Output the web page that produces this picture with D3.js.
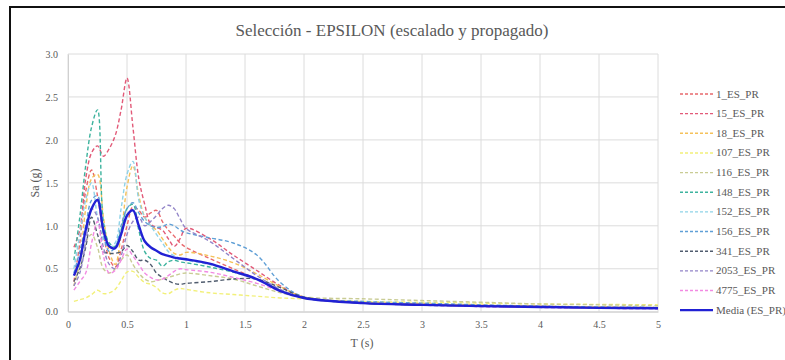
<!DOCTYPE html>
<html>
<head>
<meta charset="utf-8">
<script src="https://cdn.jsdelivr.net/npm/d3@7"></script>
<style>
  html, body { margin: 0; padding: 0; background: #fff; }
  svg { display: block; }
</style>
</head>
<body>
<svg id="chart" width="785" height="360"></svg>
<script>
// Periods (s)
const periods = [0.05,0.1,0.15,0.2,0.25,0.3,0.35,0.4,0.45,0.5,0.55,0.6,0.65,0.7,0.75,0.8,0.85,0.9,0.95,1.0,1.2,1.4,1.6,1.8,2.0,2.5,3.0,3.5,4.0,4.5,5.0];

// Spectral accelerations Sa (g) per record
const s1_ES_PR    = [0.35,0.80,1.40,1.65,1.35,0.90,0.62,0.52,0.72,1.00,1.22,1.18,1.10,1.15,1.18,1.05,0.95,0.88,0.80,0.75,0.62,0.50,0.38,0.25,0.16,0.10,0.08,0.065,0.055,0.045,0.04];
const s15_ES_PR   = [0.75,0.95,1.55,1.85,1.93,1.81,1.90,2.05,2.35,2.72,2.15,1.55,1.25,1.02,0.98,0.95,0.85,0.76,0.85,0.97,0.85,0.66,0.48,0.30,0.17,0.11,0.09,0.075,0.06,0.05,0.045];
const s18_ES_PR   = [0.30,0.60,1.20,1.55,1.60,1.10,0.70,0.55,0.90,1.45,1.70,1.35,1.10,1.00,0.95,0.85,0.75,0.68,0.66,0.69,0.65,0.57,0.44,0.29,0.17,0.11,0.09,0.075,0.065,0.055,0.05];
const s107_ES_PR  = [0.12,0.14,0.16,0.20,0.25,0.21,0.22,0.26,0.36,0.46,0.47,0.40,0.34,0.32,0.28,0.22,0.21,0.25,0.27,0.26,0.22,0.20,0.18,0.16,0.15,0.12,0.11,0.10,0.09,0.085,0.08];
const s116_ES_PR  = [0.30,0.55,0.80,0.90,0.75,0.50,0.45,0.50,0.60,0.66,0.55,0.45,0.38,0.35,0.36,0.38,0.40,0.42,0.44,0.45,0.42,0.38,0.30,0.22,0.17,0.15,0.13,0.11,0.09,0.08,0.07];
const s148_ES_PR  = [0.60,1.10,1.70,2.15,2.35,1.05,0.80,0.76,0.95,1.20,1.25,0.95,0.70,0.62,0.60,0.53,0.58,0.60,0.58,0.57,0.52,0.46,0.38,0.25,0.16,0.10,0.08,0.065,0.055,0.045,0.04];
const s152_ES_PR  = [0.50,0.90,1.30,1.50,1.10,0.85,0.75,0.80,1.20,1.60,1.75,1.30,1.10,1.00,0.90,0.80,0.70,0.65,0.62,0.60,0.55,0.47,0.38,0.25,0.16,0.10,0.08,0.065,0.055,0.045,0.04];
const s156_ES_PR  = [0.45,0.70,1.00,1.30,1.35,0.90,0.70,0.75,1.00,1.20,1.27,1.15,1.05,1.00,0.98,0.99,1.02,1.00,0.95,0.92,0.86,0.80,0.66,0.34,0.17,0.12,0.10,0.08,0.065,0.055,0.05];
const s341_ES_PR  = [0.35,0.50,0.75,1.10,0.90,0.70,0.68,0.68,0.70,0.77,0.70,0.60,0.60,0.55,0.45,0.40,0.36,0.33,0.32,0.33,0.35,0.38,0.38,0.28,0.17,0.10,0.08,0.065,0.055,0.045,0.04];
const s2053_ES_PR = [0.30,0.45,0.80,1.20,1.10,0.75,0.55,0.50,0.65,0.90,1.05,1.10,1.00,1.05,1.12,1.20,1.24,1.20,1.08,0.97,0.82,0.62,0.42,0.26,0.16,0.10,0.075,0.06,0.05,0.04,0.035];
const s4775_ES_PR = [0.25,0.35,0.45,0.80,1.05,0.65,0.45,0.48,0.60,0.73,0.65,0.55,0.45,0.40,0.37,0.38,0.42,0.47,0.50,0.49,0.46,0.40,0.33,0.24,0.16,0.10,0.08,0.06,0.05,0.04,0.035];
const media_ES_PR = [0.42,0.60,0.95,1.20,1.30,0.95,0.76,0.74,0.90,1.12,1.18,1.00,0.82,0.75,0.71,0.67,0.65,0.63,0.62,0.61,0.56,0.47,0.38,0.24,0.16,0.10,0.08,0.065,0.055,0.045,0.04];

const seriesNames = ["1_ES_PR","15_ES_PR","18_ES_PR","107_ES_PR","116_ES_PR","148_ES_PR","152_ES_PR","156_ES_PR","341_ES_PR","2053_ES_PR","4775_ES_PR","Media (ES_PR)"];
const seriesValues = [s1_ES_PR,s15_ES_PR,s18_ES_PR,s107_ES_PR,s116_ES_PR,s148_ES_PR,s152_ES_PR,s156_ES_PR,s341_ES_PR,s2053_ES_PR,s4775_ES_PR,media_ES_PR];
const seriesColors = ["#e8686c","#e25a78","#f5c15a","#f2f07a","#c9cc94","#3db39e","#8fd3e8","#5f9fd6","#505c6e","#9284c8","#f28ae2","#2121d4"];

const xTicks = [0,0.5,1,1.5,2,2.5,3,3.5,4,4.5,5];
const xTickLabels = ["0","0.5","1","1.5","2","2.5","3","3.5","4","4.5","5"];
const yTicks = [0,0.5,1,1.5,2,2.5,3];
const yTickLabels = ["0.0","0.5","1.0","1.5","2.0","2.5","3.0"];

const titleText = "Selección - EPSILON (escalado y propagado)";
const xTitle = "T (s)";
const yTitle = "Sa (g)";

const svg = d3.select("#chart");
const serif = '"Liberation Serif", "DejaVu Serif", "Noto Serif", "Tinos", "Times New Roman", Times, serif';
const textGray = "#595959";

// Outer chart frame
svg.append("rect").attr("x", 10).attr("y", 7).attr("width", 800).attr("height", 400)
  .attr("fill", "#fff").attr("stroke", "#111").attr("stroke-width", 2);

const plot = { left: 68, right: 658, top: 54, bottom: 311.7 };
const x = d3.scaleLinear().domain([0, 5]).range([plot.left, plot.right]);
const y = d3.scaleLinear().domain([0, 3]).range([plot.bottom, plot.top]);

// Gridlines
const grid = svg.append("g");
grid.selectAll("line.v").data(xTicks).join("line")
  .attr("x1", d => x(d)).attr("x2", d => x(d))
  .attr("y1", plot.top).attr("y2", plot.bottom)
  .attr("stroke", "#dcdcdc").attr("stroke-width", 1);
grid.selectAll("line.h").data(yTicks).join("line")
  .attr("x1", plot.left).attr("x2", plot.right)
  .attr("y1", d => y(d)).attr("y2", d => y(d))
  .attr("stroke", "#dcdcdc").attr("stroke-width", 1);

// Axes
const xAxis = d3.axisBottom(x).tickValues(xTicks).tickFormat((d, i) => xTickLabels[i]).tickSize(0).tickPadding(9);
const yAxis = d3.axisLeft(y).tickValues(yTicks).tickFormat((d, i) => yTickLabels[i]).tickSize(0).tickPadding(10);
const gx = svg.append("g").attr("transform", `translate(0,${plot.bottom})`).call(xAxis);
const gy = svg.append("g").attr("transform", `translate(${plot.left},0)`).call(yAxis);
[gx, gy].forEach(g => {
  g.attr("font-family", serif).attr("font-size", 10);
  g.select(".domain").attr("stroke", "#d0d0d0");
  g.selectAll("text").attr("fill", textGray);
});

// Series curves
const line = d3.line()
  .x((d, i) => x(periods[i]))
  .y(d => y(d))
  .curve(d3.curveCatmullRom.alpha(0.5));

const curves = svg.append("g");
seriesValues.forEach((vals, k) => {
  const isMean = k === seriesValues.length - 1;
  curves.append("path")
    .datum(vals)
    .attr("d", line)
    .attr("fill", "none")
    .attr("stroke", seriesColors[k])
    .attr("stroke-width", isMean ? 2.4 : 1.4)
    .attr("stroke-dasharray", isMean ? null : "4,2.5")
    .attr("stroke-linejoin", "round");
});

// Title and axis titles
svg.append("text").attr("x", 392).attr("y", 36).attr("text-anchor", "middle")
  .attr("font-family", serif).attr("font-size", 17).attr("fill", textGray).text(titleText);
svg.append("text").attr("x", 362).attr("y", 347).attr("text-anchor", "middle")
  .attr("font-family", serif).attr("font-size", 12).attr("fill", textGray).text(xTitle);
svg.append("text").attr("transform", "translate(39,183) rotate(-90)").attr("text-anchor", "middle")
  .attr("font-family", serif).attr("font-size", 12).attr("fill", textGray).text(yTitle);

// Legend
const legend = svg.append("g");
seriesNames.forEach((name, k) => {
  const isMean = k === seriesNames.length - 1;
  const ly = 94 + k * 19.65;
  legend.append("line").attr("x1", 680).attr("x2", 713).attr("y1", ly).attr("y2", ly)
    .attr("stroke", seriesColors[k]).attr("stroke-width", isMean ? 2.4 : 1.4)
    .attr("stroke-dasharray", isMean ? null : "3,2");
  legend.append("text").attr("x", 716).attr("y", ly + 3.5)
    .attr("font-family", serif).attr("font-size", 11).attr("fill", textGray).text(name);
});
</script>
</body>
</html>
